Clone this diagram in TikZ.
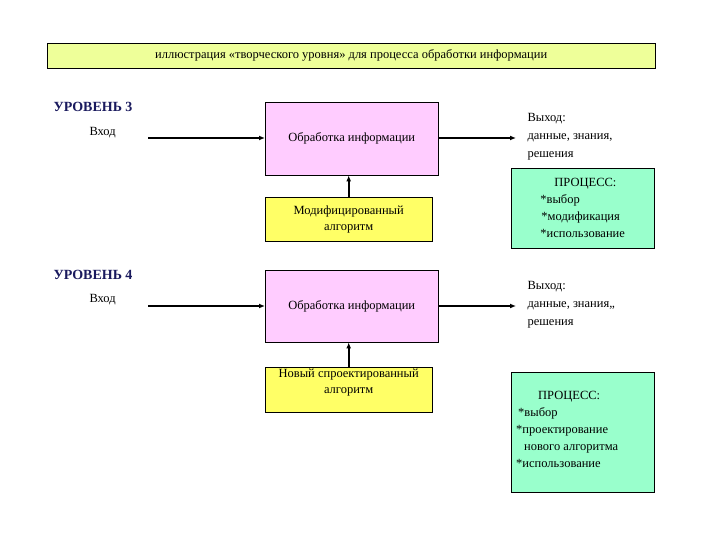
\documentclass[tikz,border=0pt]{standalone}
\usepackage{fontspec}
\setmainfont{Liberation Serif}
\usetikzlibrary{positioning, arrows.meta}
\definecolor{titlefill}{HTML}{EEFF99}
\definecolor{procfill}{HTML}{FFCCFF}
\definecolor{algfill}{HTML}{FFFF66}
\definecolor{outfill}{HTML}{99FFCC}
\definecolor{levelblue}{HTML}{1A1A5E}
\begin{document}
\begin{tikzpicture}[x=1pt, y=-1pt, font=\fontsize{12.5}{17}\selectfont]
        % Define block styles
        \tikzstyle{box} = [draw=black, inner sep=0pt, anchor=north west]
        \tikzstyle{level} = [anchor=west, font=\fontsize{14}{16}\selectfont\bfseries, text=levelblue]
        \tikzstyle{plain} = [anchor=west, align=left]
        \tikzstyle{arrow} = [line width=1.6pt, -{Latex[length=6pt, width=5pt]}]
        \useasboundingbox (0,0) rectangle (720,540);

        % Title
        \node (title) [box, fill=titlefill, minimum width=608pt, minimum height=25pt] at (47,43) {иллюстрация «творческого уровня» для процесса обработки информации};

        % Level 3
        \node (lev3) [level] at (50,107) {УРОВЕНЬ 3};
        \node (in3) [plain] at (86,133) {Вход};
        \coordinate (in3a) at (148,138);
        \node (proc3) [box, fill=procfill, minimum width=173pt, minimum height=73pt] at (265,102) {Обработка информации};
        \coordinate (out3a) at (516,138);
        \node (out3) [plain, align=left, font=\fontsize{12.5}{18}\selectfont] at (524,137) {Выход:\\данные, знания,\\решения};
        \node (alg3) [box, fill=algfill, minimum width=167pt, minimum height=44pt, align=center, font=\fontsize{12.5}{16}\selectfont] at (265,197) {Модифицированный\\алгоритм};
        \node (res3) [box, fill=outfill, minimum width=143pt, minimum height=80pt, align=left] at (511,168) {\hspace*{14pt}ПРОЦЕСС:\\ *выбор\\ \hspace*{1pt}*модификация\\ *использование};

        % Level 4
        \node (lev4) [level] at (50,275) {УРОВЕНЬ 4};
        \node (in4) [plain] at (86,300) {Вход};
        \coordinate (in4a) at (148,306);
        \node (proc4) [box, fill=procfill, minimum width=173pt, minimum height=72pt] at (265,270) {Обработка информации};
        \coordinate (out4a) at (516,306);
        \node (out4) [plain, align=left, font=\fontsize{12.5}{18}\selectfont] at (524,305) {Выход:\\данные, знания,,\\решения};
        \node (alg4) [box, fill=algfill, minimum width=167pt, minimum height=45pt] at (265,367) {};
        \node (alg4t) [anchor=north, align=center, font=\fontsize{12.5}{16}\selectfont, inner sep=2pt] at (alg4.north) {Новый спроектированный\\алгоритм};
        \node (res4) [box, fill=outfill, minimum width=143pt, minimum height=120pt] at (511,372) {};
        \node (res4t) [anchor=north west, align=left, inner sep=0pt] at (516,391) {\hspace*{22pt}ПРОЦЕСС:\\ \hspace*{2pt}*выбор\\ *проектирование\\ \hspace*{8pt}нового алгоритма\\ *использование};

        % Arrows
        \draw [arrow] (in3a) -- (in3a -| proc3.west);
        \draw [arrow] (proc3.east |- out3a) -- (out3a);
        \draw [arrow] (alg3.north) -- (alg3.north |- proc3.south);
        \draw [arrow] (in4a) -- (in4a -| proc4.west);
        \draw [arrow] (proc4.east |- out4a) -- (out4a);
        \draw [arrow] (alg4.north) -- (alg4.north |- proc4.south);
\end{tikzpicture}
\end{document}
